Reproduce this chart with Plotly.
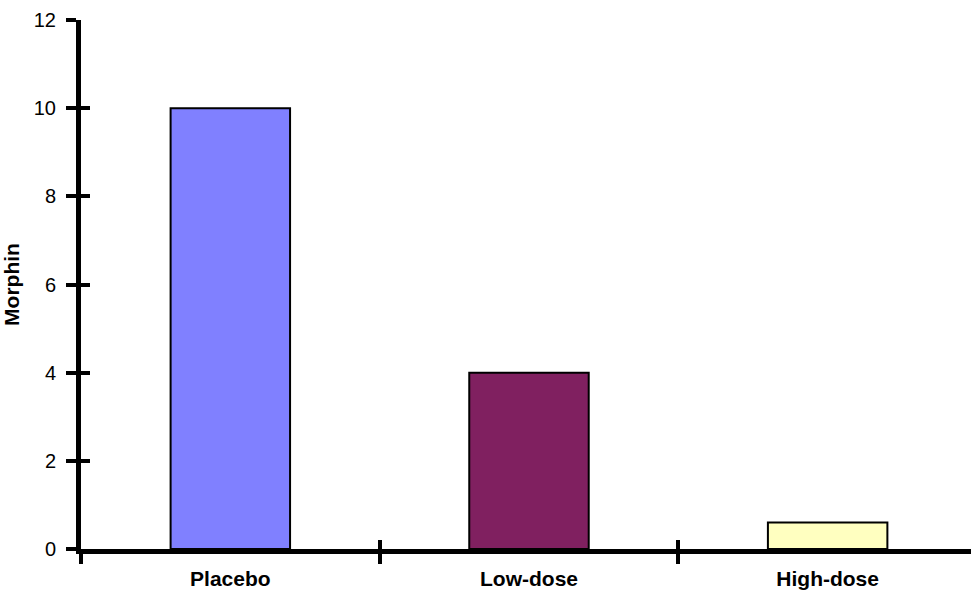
import plotly.graph_objects as go

# Morphine consumption per treatment group
groups = ["Placebo", "Low-dose", "High-dose"]
morphin = [10, 4, 0.6]
bar_colors = ["#8080FF", "#802060", "#FFFFC0"]

y_ticks = [0, 2, 4, 6, 8, 10, 12]

fig = go.Figure()

fig.add_trace(go.Bar(
    x=groups, y=morphin,
    marker=dict(color=bar_colors, line=dict(color="black", width=2)),
    width=0.4, xaxis="x", yaxis="y", hoverinfo="x+y",
))

# invisible copy on the overlay axes so the crossing tick marks get categories
fig.add_trace(go.Bar(
    x=groups, y=morphin, opacity=0, width=0.4,
    xaxis="x2", yaxis="y2", hoverinfo="skip", showlegend=False,
))

family = "Liberation Sans, Arial, sans-serif"
x_range = [-0.5, 2.48]

fig.update_layout(
    width=971, height=595,
    margin=dict(l=81, r=0, t=20, b=46),
    paper_bgcolor="white", plot_bgcolor="white",
    showlegend=False, bargap=0.6,
    xaxis=dict(
        type="category", range=x_range,
        showline=True, linecolor="black", linewidth=5,
        ticks="outside", ticklen=10, tickwidth=4, tickcolor="black",
        tickson="boundaries", showgrid=False, zeroline=False,
        tickfont=dict(family=family, size=21, color="black", weight="bold"),
        ticklabelstandoff=7,
    ),
    yaxis=dict(
        range=[0, 12], tickvals=y_ticks,
        showline=True, linecolor="black", linewidth=5,
        ticks="outside", ticklen=10, tickwidth=4, tickcolor="black",
        showgrid=False, zeroline=False,
        tickfont=dict(family=family, size=20, color="black"),
        ticklabelstandoff=6,
        title=dict(text="<b>Morphin</b>", standoff=17,
                   font=dict(family=family, size=21, color="black")),
    ),
    xaxis2=dict(
        type="category", range=x_range, overlaying="x", anchor="y2",
        side="bottom", ticks="inside", ticklen=9, tickwidth=4,
        tickcolor="black", tickson="boundaries", showticklabels=False,
        showline=False, showgrid=False, zeroline=False,
    ),
    yaxis2=dict(
        range=[0, 12], tickvals=y_ticks, overlaying="y", anchor="x2",
        side="left", ticks="inside", ticklen=9, tickwidth=4,
        tickcolor="black", showticklabels=False,
        showline=False, showgrid=False, zeroline=False,
    ),
)

fig.write_html("out.html")
